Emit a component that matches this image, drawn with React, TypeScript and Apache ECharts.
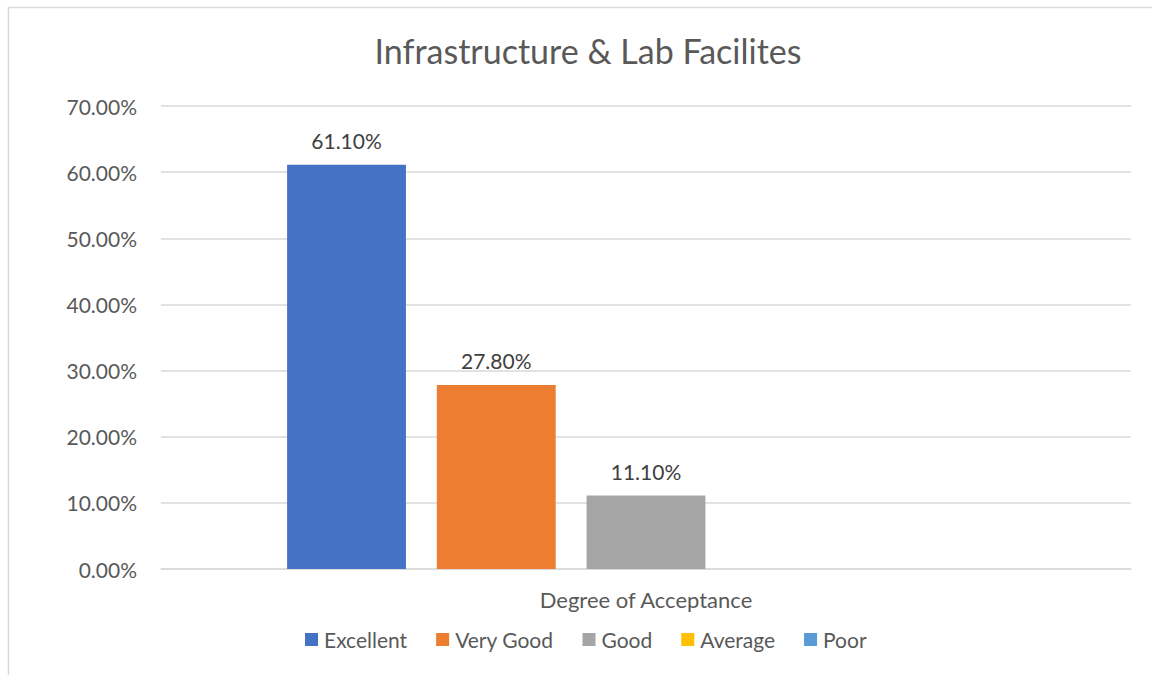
import React, { useEffect, useRef } from "react";
import * as echarts from "echarts";

const categories = ["Degree of Acceptance"];
const seriesNames = ["Excellent", "Very Good", "Good", "Average", "Poor"];
const seriesValues = [61.1, 27.8, 11.1, 0, 0];
const seriesColors = ["#4472C4", "#ED7D31", "#A5A5A5", "#FFC000", "#5B9BD5"];
const yTicks = [0, 10, 20, 30, 40, 50, 60, 70];

const FONT = "Lato, 'Open Sans', sans-serif";

export default function App() {
  const ref = useRef<HTMLDivElement>(null);
  useEffect(() => {
    const chart = echarts.init(ref.current!, null, { renderer: "svg" });
    chart.setOption({
      animation: false,
      backgroundColor: "#fff",
      title: {
        text: "Infrastructure & Lab Facilites",
        left: 583,
        textAlign: "center",
        top: 28,
        textStyle: { fontFamily: FONT, fontSize: 34, fontWeight: "normal", color: "#595959" },
      },
      legend: {
        bottom: 25,
        left: 305,
        padding: 0,
        itemWidth: 13,
        itemHeight: 13,
        itemGap: 29,
        icon: "rect",
        data: seriesNames,
        textStyle: { fontFamily: FONT, fontSize: 21, color: "#595959", padding: [0, 0, 0, 1] },
      },
      grid: { left: 161, right: 21, top: 106, bottom: 106 },
      xAxis: {
        type: "category",
        data: categories,
        axisLine: { lineStyle: { color: "#D9D9D9", width: 1.5 } },
        axisTick: { show: false },
        axisLabel: { fontFamily: FONT, fontSize: 22, color: "#595959", margin: 19 },
      },
      yAxis: {
        type: "value",
        min: yTicks[0],
        max: yTicks[yTicks.length - 1],
        interval: 10,
        axisLine: { show: false },
        axisTick: { show: false },
        splitLine: { lineStyle: { color: "#D9D9D9", width: 1.5 } },
        axisLabel: {
          fontFamily: FONT,
          fontSize: 21,
          color: "#595959",
          margin: 24,
          formatter: (v: number) => v.toFixed(2) + "%",
        },
      },
      series: seriesNames.map((name, i) => ({
        name,
        type: "bar",
        data: [seriesValues[i]],
        barGap: "26%",
        barCategoryGap: "26%",
        itemStyle: { color: seriesColors[i] },
        label: {
          show: seriesValues[i] > 0,
          position: "top",
          distance: 14,
          fontFamily: FONT,
          fontSize: 21,
          color: "#404040",
          formatter: (p: any) => p.value.toFixed(2) + "%",
        },
      })),
      graphic: [
        {
          type: "rect",
          shape: { x: 8.5, y: 7.5, width: 1160, height: 700 },
          style: { fill: "none", stroke: "#D9D9D9", lineWidth: 1.5 },
          silent: true,
        },
      ],
    });
    return () => chart.dispose();
  }, []);
  return <div ref={ref} style={{ width: 1152, height: 675, position: "absolute", left: 0, top: 0 }} />;
}
